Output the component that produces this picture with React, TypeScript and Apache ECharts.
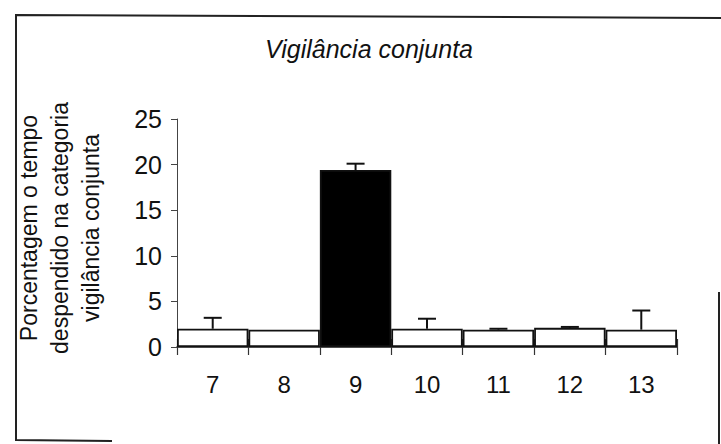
import React, { useEffect, useRef } from "react";
import * as echarts from "echarts";

// Ages (categories) and mean percentage of time spent in joint vigilance
const categories = ["7", "8", "9", "10", "11", "12", "13"];
const means = [2.0, 1.9, 19.4, 2.0, 1.9, 2.1, 1.9];
// Upper error (standard error) drawn above each bar
const errors = [1.2, 0, 0.7, 1.1, 0.1, 0.1, 2.1];
// Bar fill per category: the peak category is shown solid
const fills = ["#ffffff", "#ffffff", "#000000", "#ffffff", "#ffffff", "#ffffff", "#ffffff"];
const yTicks = [0, 5, 10, 15, 20, 25];

const FONT = "'Liberation Sans', Arial, Helvetica, sans-serif";

export default function App() {
  const ref = useRef<HTMLDivElement>(null);

  useEffect(() => {
    if (!ref.current) return;
    const chart = echarts.init(ref.current, null, { renderer: "svg" });

    const barData = means.map((v, i) => ({
      value: v,
      itemStyle: { color: fills[i] },
    }));

    const errData = means.map((v, i) => [i, v, v + errors[i]]);

    chart.setOption({
      animation: false,
      backgroundColor: "#ffffff",
      title: {
        text: "Vigilância conjunta",
        left: 364,
        top: 31,
        textAlign: "center",
        textStyle: {
          fontFamily: FONT,
          fontStyle: "italic",
          fontWeight: "normal",
          fontSize: 25,
          color: "#111",
        },
      },
      grid: { left: 177, right: 44, top: 119, bottom: 97 },
      xAxis: [
        {
          type: "category",
          data: categories,
          position: "bottom",
          axisLine: { show: true, lineStyle: { color: "#111", width: 1.5 } },
          axisTick: {
            show: true,
            alignWithLabel: false,
            length: 8,
            lineStyle: { color: "#333", width: 1.2 },
          },
          axisLabel: {
            margin: 25,
            fontFamily: FONT,
            fontSize: 24,
            color: "#111",
          },
          splitLine: { show: false },
        },
        {
          // ticks crossing above the baseline
          type: "category",
          data: categories,
          position: "bottom",
          axisLine: { show: false },
          axisTick: {
            show: true,
            inside: true,
            length: 8,
            lineStyle: { color: "#333", width: 1.2 },
          },
          axisLabel: { show: false },
          splitLine: { show: false },
        },
      ],
      yAxis: {
        type: "value",
        min: yTicks[0],
        max: yTicks[yTicks.length - 1],
        interval: 5,
        axisLine: { show: true, lineStyle: { color: "#444", width: 1 } },
        axisTick: { show: true, length: 6, lineStyle: { color: "#444" } },
        axisLabel: {
          margin: 15,
          fontFamily: FONT,
          fontSize: 25,
          color: "#111",
        },
        splitLine: { show: false },
      },
      series: [
        {
          type: "bar",
          data: barData,
          barCategoryGap: 0,
          itemStyle: { borderColor: "#111", borderWidth: 1.8 },
          z: 2,
        },
        {
          type: "custom",
          data: errData,
          z: 3,
          renderItem: (params: any, api: any) => {
            const i = api.value(0);
            const lo = api.coord([i, api.value(1)]);
            const hi = api.coord([i, api.value(2)]);
            const half = 9;
            if (Math.abs(hi[1] - lo[1]) < 0.5) return { type: "group", children: [] };
            return {
              type: "group",
              children: [
                {
                  type: "line",
                  shape: { x1: lo[0], y1: lo[1], x2: hi[0], y2: hi[1] },
                  style: { stroke: "#111", lineWidth: 2 },
                },
                {
                  type: "line",
                  shape: { x1: hi[0] - half, y1: hi[1], x2: hi[0] + half, y2: hi[1] },
                  style: { stroke: "#111", lineWidth: 2 },
                },
              ],
            };
          },
        },
      ],
      graphic: [
        {
          type: "text",
          x: 60,
          y: 228,
          rotation: Math.PI / 2,
          style: {
            text: "Porcentagem o tempo\ndespendido na categoria\nvigilância conjunta",
            align: "center",
            verticalAlign: "middle",
            fontFamily: FONT,
            fontSize: 23,
            lineHeight: 31,
            fill: "#111",
          },
        },
        {
          type: "polyline",
          shape: {
            points: [
              [721, 18],
              [16, 15],
              [16, 440],
              [112, 441],
            ],
          },
          style: { stroke: "#222", lineWidth: 2, fill: null },
        },
        {
          type: "line",
          shape: { x1: 719, y1: 292, x2: 719, y2: 444 },
          style: { stroke: "#222", lineWidth: 2 },
        },
      ],
    });

    return () => chart.dispose();
  }, []);

  return (
    <div
      ref={ref}
      style={{ position: "fixed", left: 0, top: 0, width: 721, height: 444, background: "#fff" }}
    />
  );
}
